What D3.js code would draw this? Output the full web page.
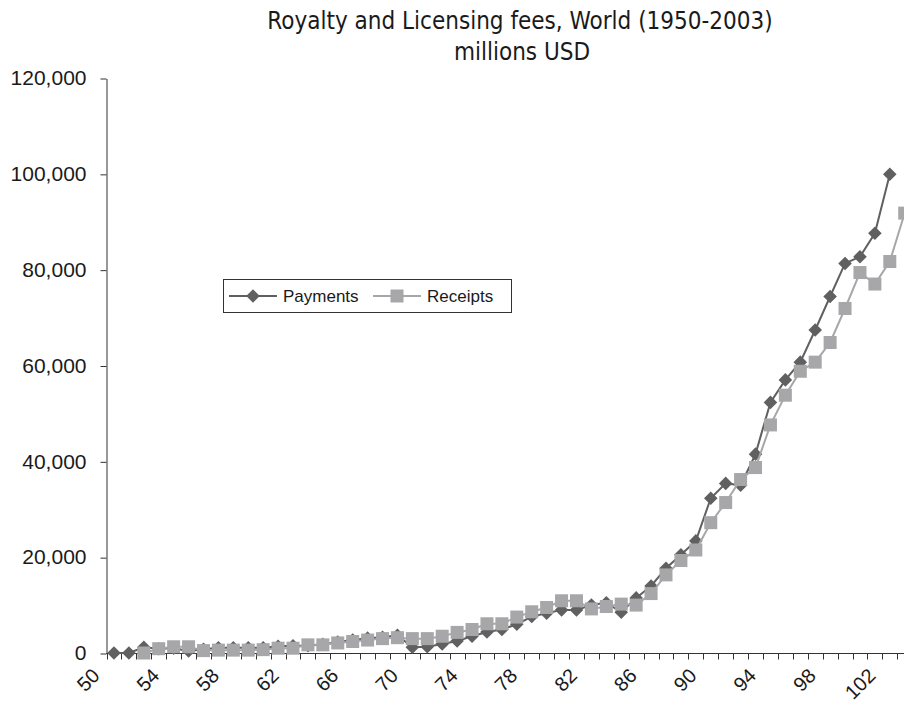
<!DOCTYPE html>
<html>
<head>
<meta charset="utf-8">
<script src="https://cdn.jsdelivr.net/npm/d3@7"></script>
<style>
    body { margin: 0; background: #fff; }
    svg { display: block; }
    text { font-family: "Liberation Sans", Arial, sans-serif; fill: #1a1a1a; }
</style>
</head>
<body>
<div id="chart"></div>
<script>
// Years as shown on the axis (year - 1900)
const years = [50, 51, 52, 53, 54, 55, 56, 57, 58, 59,
               60, 61, 62, 63, 64, 65, 66, 67, 68, 69,
               70, 71, 72, 73, 74, 75, 76, 77, 78, 79,
               80, 81, 82, 83, 84, 85, 86, 87, 88, 89,
               90, 91, 92, 93, 94, 95, 96, 97, 98, 99,
               100, 101, 102, 103];

const xLabels = [50, 54, 58, 62, 66, 70, 74, 78, 82, 86, 90, 94, 98, 102];
const yTicks = [0, 20000, 40000, 60000, 80000, 100000, 120000];

// millions USD
const payments = [0, 0, 1200, 900, 1000, 400, 800, 1100, 1100, 1100,
                  1100, 1400, 1500, 1500, 1800, 2300, 2700, 3100, 3300, 3700,
                  1200, 1300, 1900, 2500, 3500, 4400, 4900, 6000, 7600, 8300,
                  9000, 9000, 10000, 10500, 8500, 11500, 14000, 17700, 20500, 23400,
                  32300, 35400, 35000, 41500, 52300, 57000, 60700, 67400, 74400, 81300,
                  82700, 87600, 99900, null];

const receipts = [null, null, 0, 900, 1300, 1300, 500, 600, 600, 600,
                  700, 1000, 1000, 1700, 1700, 2100, 2400, 2700, 3000, 3200,
                  3000, 3000, 3500, 4300, 4900, 6100, 6100, 7500, 8600, 9500,
                  10900, 10900, 9200, 9700, 10200, 10000, 12400, 16300, 19300, 21500,
                  27200, 31400, 36200, 38700, 47600, 53800, 58800, 60700, 64800, 71900,
                  79400, 77000, 81700, 91800];

const width = 904, height = 702;
const payColor = "#606060";
const recColor = "#a7a7a9";

const svg = d3.select("#chart")
    .append("svg")
        .attr("width", width)
        .attr("height", height);

const x = d3.scaleBand()
    .domain(years)
    .range([106.5, 106.5 + years.length * 14.92]);
const y = d3.scaleLinear()
    .domain([0, 120000])
    .range([653, 78]);

const cx = d => x(d) + x.bandwidth() / 2;

// Title
const title = svg.append("text")
    .attr("text-anchor", "middle")
    .style("font-family", "'DejaVu Sans Condensed', 'DejaVu Sans', sans-serif")
    .style("font-size", "24px");
title.append("tspan").attr("x", 520).attr("y", 29).text("Royalty and Licensing fees, World (1950-2003)");
title.append("tspan").attr("x", 522).attr("y", 60).text("millions USD");

// Y axis
const yAxis = svg.append("g")
    .attr("transform", "translate(106.5,0.5)")
    .call(d3.axisLeft(y)
        .tickValues(yTicks)
        .tickFormat(d3.format(","))
        .tickSize(6)
        .tickPadding(14)
        .tickSizeOuter(0));
yAxis.select(".domain").attr("stroke", "#333");
yAxis.selectAll(".tick line").attr("stroke", "#333");
yAxis.selectAll(".tick text")
    .attr("font-family", null)
    .style("font-size", "21px")
    .attr("dy", "0.3em");
yAxis.attr("font-family", null).attr("font-size", null);

// X axis (category axis, ticks between categories)
const xAxis = svg.append("g").attr("transform", "translate(0,653.5)");
xAxis.append("line")
    .attr("x1", x.range()[0])
    .attr("x2", x.range()[1])
    .attr("stroke", "#333");
xAxis.selectAll("line.tick")
    .data(years.concat([null]))
    .enter()
    .append("line")
        .attr("class", "tick")
        .attr("x1", d => d === null ? x.range()[1] : Math.round(x(d)) + 0.5)
        .attr("x2", d => d === null ? x.range()[1] : Math.round(x(d)) + 0.5)
        .attr("y1", 0)
        .attr("y2", 6)
        .attr("stroke", "#333");

svg.append("g")
    .selectAll("text")
    .data(xLabels)
    .enter()
    .append("text")
        .attr("transform", d => "translate(" + (cx(d) - 13) + ",677) rotate(-45)")
        .attr("text-anchor", "end")
        .style("font-size", "20px")
        .text(d => d);

// Series
const line = d3.line()
    .defined(d => d[1] !== null)
    .x(d => cx(d[0]))
    .y(d => y(d[1]));

const plot = svg.append("g");

function drawSeries(values, color, marker) {
    const pts = years.map((yr, i) => [yr, values[i]]);
    plot.append("path")
        .datum(pts)
        .attr("fill", "none")
        .attr("stroke", color)
        .attr("stroke-width", 2)
        .attr("d", line);
    const g = plot.append("g");
    const valid = pts.filter(d => d[1] !== null);
    if (marker === "diamond") {
        g.selectAll("path")
            .data(valid)
            .enter()
            .append("path")
                .attr("d", d3.symbol(d3.symbolSquare, 92))
                .attr("transform", d => "translate(" + cx(d[0]) + "," + y(d[1]) + ") rotate(45)")
                .attr("fill", color);
    } else {
        g.selectAll("rect")
            .data(valid)
            .enter()
            .append("rect")
                .attr("x", d => cx(d[0]) - 6.5)
                .attr("y", d => y(d[1]) - 6.5)
                .attr("width", 13)
                .attr("height", 13)
                .attr("fill", color);
    }
}

drawSeries(payments, payColor, "diamond");
drawSeries(receipts, recColor, "square");

// Legend
const legend = svg.append("g");
legend.append("rect")
    .attr("x", 223.5)
    .attr("y", 279.5)
    .attr("width", 288)
    .attr("height", 33)
    .attr("fill", "#fff")
    .attr("stroke", "#333");

legend.append("line")
    .attr("x1", 229).attr("x2", 277)
    .attr("y1", 296).attr("y2", 296)
    .attr("stroke", payColor).attr("stroke-width", 2);
legend.append("path")
    .attr("d", d3.symbol(d3.symbolSquare, 92))
    .attr("transform", "translate(253,296) rotate(45)")
    .attr("fill", payColor);
legend.append("text")
    .attr("x", 283).attr("y", 302)
    .style("font-size", "17px")
    .text("Payments");

legend.append("line")
    .attr("x1", 373).attr("x2", 421)
    .attr("y1", 296).attr("y2", 296)
    .attr("stroke", recColor).attr("stroke-width", 2);
legend.append("rect")
    .attr("x", 390.5).attr("y", 289.5)
    .attr("width", 13).attr("height", 13)
    .attr("fill", recColor);
legend.append("text")
    .attr("x", 427).attr("y", 302)
    .style("font-size", "17px")
    .text("Receipts");
</script>
</body>
</html>
